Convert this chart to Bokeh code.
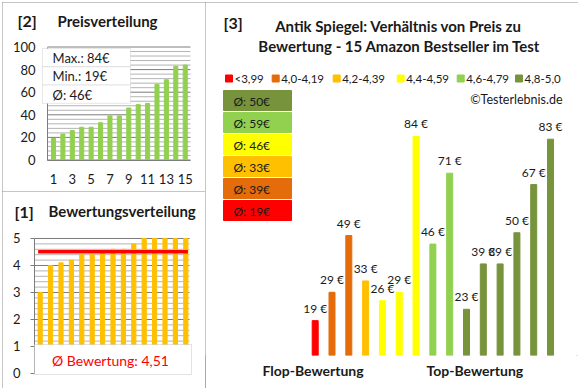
import math
from bokeh.plotting import figure
from bokeh.models import Range1d, FixedTicker, Label, BoxAnnotation, LinearAxis
from bokeh.layouts import row, column
from bokeh.embed import file_html
from bokeh.resources import INLINE
from bokeh.core.properties import value

# ---------------- data ----------------
products = list(range(1, 16))
prices = [19, 29, 49, 33, 26, 29, 84, 46, 71, 23, 39, 39, 50, 67, 83]
ratings = [3.0, 4.0, 4.1, 4.2, 4.4, 4.4, 4.5, 4.6, 4.6, 4.8, 5.0, 5.0, 5.0, 5.0, 5.0]
class_labels = ["<3,99", "4,0-4,19", "4,2-4,39", "4,4-4,59", "4,6-4,79", "4,8-5,0"]
class_lower = [0.0, 4.0, 4.2, 4.4, 4.6, 4.8]
class_colors = ["#FF0000", "#E46C0A", "#FFC000", "#FFFF00", "#92D050", "#77933C"]
price_ticks = [0, 20, 40, 60, 80, 100]
rating_ticks = [0, 1, 2, 3, 4, 5]
group_labels = ["Flop-Bewertung", "Top-Bewertung"]
group_pos = [0.87, 10.5]

FONT = "Lato"
TXT = "#1a1a1a"
GRID_MAJOR = "#7c7c7c"
GRID_MINOR = "#b4b4b4"
FIG_BORDER = {"outline": "1px solid #8c8c8c", "outline-offset": "-1px"}


def xround(v):
    return int(math.floor(v + 0.5))


cls = [max(i for i, lo in enumerate(class_lower) if r >= lo - 1e-9) for r in ratings]
bar_colors = [class_colors[c] for c in cls]
class_avg = []
for i in range(len(class_labels)):
    vals = [p for p, c in zip(prices, cls) if c == i]
    class_avg.append(xround(sum(vals) / len(vals)))
sorted_prices = sorted(prices)
mean_price = xround(sum(prices) / len(prices))
mean_rating = sum(ratings) / len(ratings)


def add_label(p, x, y, text, size, bold=False, color=TXT, align="left", baseline="middle"):
    p.add_layout(Label(x=x, y=y, text=text, x_range_name="px", y_range_name="py",
                       text_font=FONT, text_font_size=f"{size}px",
                       text_font_style="bold" if bold else "normal",
                       text_color=color, text_align=align, text_baseline=baseline))


def grid_lines(p, x0, x1, majors, step_minor):
    lo, hi = majors[0], majors[-1]
    n = int(round((hi - lo) / step_minor))
    minors = [lo + k * step_minor for k in range(n + 1)]
    minors = [m for m in minors if all(abs(m - M) > 1e-6 for M in majors)]
    p.segment(x0=[x0] * len(minors), x1=[x1] * len(minors), y0=minors, y1=minors,
              line_color=GRID_MINOR, line_width=1)
    p.segment(x0=[x0] * len(majors), x1=[x1] * len(majors), y0=majors, y1=majors,
              line_color=GRID_MAJOR, line_width=1)


def base_fig(w, h, xr, yr, px, py, **kw):
    p = figure(width=w, height=h, x_range=Range1d(*xr), y_range=Range1d(*yr),
               x_axis_type=None, y_axis_type=None, output_backend="svg",
               toolbar_location=None, styles=FIG_BORDER, **kw)
    p.title.visible = False
    p.outline_line_color = None
    p.background_fill_color = "white"
    p.border_fill_color = "white"
    p.extra_x_ranges = {"px": Range1d(*px)}
    p.extra_y_ranges = {"py": Range1d(*py)}
    return p


# ---------------- panel [2] Preisverteilung ----------------
p2 = base_fig(203, 189, (-4.4203, 17.1547), (-27.876, 139.381), (2, 205), (191, 2),
              min_border=0)
x_left2, x_right2 = 0.3623, 15.56
grid_lines(p2, x_left2, x_right2, price_ticks, 4)
p2.vbar(x=products, top=sorted_prices, width=0.43, color="#92D050")
ya2 = LinearAxis(fixed_location=x_left2, bounds=(price_ticks[0], price_ticks[-1]),
                 ticker=FixedTicker(ticks=price_ticks))
ya2.major_tick_line_color = None
ya2.major_tick_out = 0
ya2.major_tick_in = 0
ya2.minor_tick_line_color = None
ya2.axis_line_color = GRID_MAJOR
ya2.major_label_standoff = 12
xa2 = LinearAxis(fixed_location=0, bounds=(x_left2, x_right2),
                 ticker=FixedTicker(ticks=products[::2]))
xa2.major_tick_line_color = None
xa2.major_tick_out = 0
xa2.major_tick_in = 0
xa2.minor_tick_line_color = None
xa2.axis_line_color = GRID_MAJOR
xa2.major_label_standoff = 14
for ax in (xa2, ya2):
    ax.major_label_text_font = FONT
    ax.major_label_text_font_size = "13px"
    ax.major_label_text_color = TXT
p2.add_layout(ya2, "left")
p2.add_layout(xa2, "below")
for k, txt in enumerate([f"Max.: {max(prices)}€", f"Min.: {min(prices)}€", f"Ø: {mean_price}€"]):
    top = 48 + k * 18.3
    p2.add_layout(BoxAnnotation(left=42, right=130, top=top, bottom=top + 18.3,
                                x_range_name="px", y_range_name="py",
                                fill_color="white", fill_alpha=1.0,
                                line_color="#b4b4b4", line_width=1))
    add_label(p2, 52, top + 9.6, txt, 13)
add_label(p2, 17, 20, "[2]", 16, bold=True)
add_label(p2, 57, 20, "Preisverteilung", 15, bold=True)

# ---------------- panel [1] Bewertungsverteilung ----------------
p1 = base_fig(203, 197, (-2.625, 16.894), (-0.5556, 6.7407), (2, 205), (388, 191),
              min_border=0)
x_left1, x_right1 = 0.4519, 15.356
grid_lines(p1, x_left1, x_right1, rating_ticks, 0.2)
p1.vbar(x=products, top=ratings, width=0.4, color="#FFC000")
p1.line(x=[products[0] - 0.2, products[-1] + 0.2], y=[mean_rating, mean_rating],
        line_color="#FF0000", line_width=3.5)
ya1 = LinearAxis(fixed_location=x_left1, bounds=(rating_ticks[0], rating_ticks[-1]),
                 ticker=FixedTicker(ticks=rating_ticks))
ya1.major_tick_line_color = GRID_MAJOR
ya1.major_tick_out = 4
ya1.major_tick_in = 0
ya1.minor_tick_line_color = None
ya1.axis_line_color = GRID_MAJOR
ya1.major_label_standoff = 10
ya1.major_label_text_font = FONT
ya1.major_label_text_font_size = "13px"
ya1.major_label_text_color = TXT
p1.add_layout(ya1, "left")
p1.add_layout(BoxAnnotation(left=34, right=191, top=344, bottom=374,
                            x_range_name="px", y_range_name="py",
                            fill_color="white", fill_alpha=1.0,
                            line_color="#a0a0a0", line_width=1))
add_label(p1, 110, 360, "Ø Bewertung: " + f"{mean_rating:.2f}".replace(".", ","), 14,
          color="#FF0000", align="center")
add_label(p1, 14, 211, "[1]", 16, bold=True)
add_label(p1, 48, 210, "Bewertungsverteilung", 15, bold=True)

# ---------------- panel [3] Preis zu Bewertung ----------------
p3 = base_fig(373, 386, (-5.5259, 16.6633), (6.702, 131.217), (205, 578), (355, 2),
              min_border_left=0, min_border_right=0, min_border_top=0, min_border_bottom=33)
p3.vbar(x=products, top=prices, bottom=0, width=0.357, color=bar_colors)
p3.text(x=products, y=prices, text=[f"{v} €" for v in prices],
        text_font=value(FONT), text_font_size="12px", text_color=TXT,
        text_align="center", text_baseline="bottom", y_offset=-5)
xa3 = LinearAxis(ticker=FixedTicker(ticks=group_pos),
                 major_label_overrides={pos: lab for pos, lab in zip(group_pos, group_labels)})
xa3.axis_line_color = None
xa3.major_tick_line_color = None
xa3.minor_tick_line_color = None
xa3.major_tick_out = 0
xa3.major_label_standoff = 6
xa3.major_label_text_font = FONT
xa3.major_label_text_font_size = "14px"
xa3.major_label_text_font_style = "bold"
xa3.major_label_text_color = TXT
p3.add_layout(xa3, "below")

# legend row
legend_x = [225, 271.7, 332.7, 396.7, 456.7, 515]
p3.rect(x=[lx + 3.5 for lx in legend_x], y=[78] * len(legend_x), width=7, height=7,
        color=class_colors, x_range_name="px", y_range_name="py")
p3.text(x=[lx + 9 for lx in legend_x], y=[78] * len(legend_x), text=class_labels,
        text_font=value(FONT), text_font_size="11.5px", text_color=TXT,
        text_align="left", text_baseline="middle", x_range_name="px", y_range_name="py")

# average boxes (best class on top)
order = list(range(len(class_labels)))[::-1]
tops = [90 + 22 * k for k in range(len(order))]
p3.quad(left=[223] * len(order), right=[291] * len(order), top=tops,
        bottom=[t + 20 for t in tops], color=[class_colors[i] for i in order],
        x_range_name="px", y_range_name="py")
p3.text(x=[233] * len(order), y=[t + 10.5 for t in tops],
        text=[f"Ø: {class_avg[i]}€" for i in order],
        text_font=value(FONT), text_font_size="12px", text_color=TXT,
        text_align="left", text_baseline="middle", x_range_name="px", y_range_name="py")

add_label(p3, 223, 22, "[3]", 16, bold=True)
add_label(p3, 398, 25, "Antik Spiegel: Verhältnis von Preis zu", 15, bold=True, align="center")
add_label(p3, 399, 45, "Bewertung - 15 Amazon Bestseller im Test", 15, bold=True, align="center")
add_label(p3, 562, 99, "©Testerlebnis.de", 12.5, align="right")

layout = row(column(p2, p1), p3, margin=(2, 0, 0, 2),
             styles={"outline": "2px solid #8c8c8c", "outline-offset": "-2px"})
open("out.html", "w").write(file_html(layout, INLINE, title="Antik Spiegel"))
